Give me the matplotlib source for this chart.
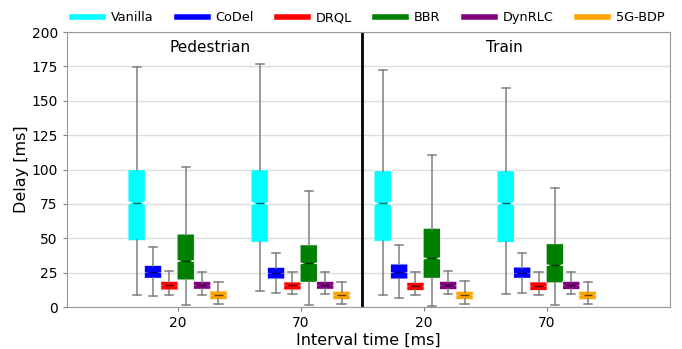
import matplotlib
matplotlib.use("Agg")
import matplotlib.pyplot as plt
from matplotlib.lines import Line2D
import numpy as np

# methods and their colours
methods = ["Vanilla", "CoDel", "DRQL", "BBR", "DynRLC", "5G-BDP"]
colors = ["cyan", "blue", "red", "green", "purple", "orange"]

# groups: Pedestrian 20, Pedestrian 70, Train 20, Train 70
tick_labels = ["20", "70", "20", "70"]
scenarios = ["Pedestrian", "Train"]

# box statistics in ms, one row per method, one column per group
whislo = [[8.5, 11.6, 8.7, 9.5],
          [8.0, 10.0, 6.3, 10.0],
          [8.5, 9.2, 8.7, 8.7],
          [1.2, 1.2, 0.7, 1.2],
          [8.7, 9.5, 9.2, 9.2],
          [2.2, 2.2, 2.2, 2.2]]
q1 = [[48.7, 47.5, 48.2, 47.3],
      [21.3, 20.8, 20.8, 21.3],
      [12.8, 12.8, 12.4, 12.4],
      [20.1, 18.4, 21.3, 18.0],
      [13.3, 13.3, 13.1, 13.1],
      [5.8, 5.8, 5.8, 5.8]]
med = [[75.9, 75.4, 75.4, 75.4],
       [25.2, 24.5, 25.2, 24.7],
       [15.8, 15.8, 15.0, 15.3],
       [33.5, 31.8, 35.4, 30.5],
       [15.8, 16.0, 15.8, 15.8],
       [8.5, 8.5, 8.5, 8.5]]
q3 = [[99.6, 99.6, 98.9, 98.9],
      [30.0, 28.6, 31.0, 28.8],
      [18.4, 18.0, 17.7, 18.0],
      [52.8, 45.0, 57.0, 45.8],
      [18.4, 18.4, 18.4, 18.4],
      [11.4, 11.2, 11.2, 11.2]]
whishi = [[174.5, 177.0, 172.4, 159.0],
          [43.4, 39.0, 45.0, 39.0],
          [26.2, 25.5, 25.5, 25.7],
          [102.0, 84.8, 110.5, 86.3],
          [25.7, 25.7, 26.4, 25.7],
          [18.4, 18.4, 19.2, 18.0]]
n_samples = 4000  # assumed samples per box, only sets the notch size

fig, ax = plt.subplots(figsize=(6.82, 3.49), dpi=100)
fig.subplots_adjust(left=0.098, right=0.982, bottom=0.12, top=0.908)

width = 0.133
group_pos = np.arange(1, 5)

for i, (name, col) in enumerate(zip(methods, colors)):
    stats = []
    for j in range(4):
        iqr = q3[i][j] - q1[i][j]
        ci = 1.57 * iqr / np.sqrt(n_samples)
        stats.append(dict(whislo=whislo[i][j], q1=q1[i][j], med=med[i][j],
                          q3=q3[i][j], whishi=whishi[i][j],
                          cilo=med[i][j] - ci, cihi=med[i][j] + ci,
                          fliers=[]))
    pos = group_pos + (i - 2.5) * width

    # light outline of the boxes (no notch), drawn underneath
    ax.bxp(stats, positions=pos, widths=width, patch_artist=True,
           showfliers=False, manage_ticks=False, showcaps=False,
           boxprops=dict(facecolor="none", edgecolor="#f4f4f4", linewidth=1.2),
           medianprops=dict(linewidth=0),
           whiskerprops=dict(linewidth=0))
    # the notched filled boxes with whiskers
    ax.bxp(stats, positions=pos, widths=width, patch_artist=True,
           shownotches=True, showfliers=False, manage_ticks=False,
           boxprops=dict(facecolor=col, edgecolor="none", linewidth=0),
           medianprops=dict(color="black", alpha=0.6, linewidth=1),
           whiskerprops=dict(color="#7f7f7f", linewidth=1.1),
           capprops=dict(color="#7f7f7f", linewidth=1.1))

# divider between scenarios
ax.axvline(2.5, color="black", linewidth=2)
ax.text(1.265, 189, scenarios[0], ha="center", va="center", fontsize=11)
ax.text(3.66, 189, scenarios[1], ha="center", va="center", fontsize=11)

ax.set_xlim(0.1, 5.0)
ax.set_ylim(0, 200)
ax.set_yticks(np.arange(0, 201, 25))
ax.set_xticks(group_pos)
ax.set_xticklabels(tick_labels)
ax.tick_params(labelsize=10, color="#808080", length=3)
ax.set_xlabel("Interval time [ms]", fontsize=11.5, labelpad=2)
ax.set_ylabel("Delay [ms]", fontsize=11.5, labelpad=2)
ax.yaxis.grid(True, color="#dddddd", linewidth=1)
ax.set_axisbelow(True)
for sp in ax.spines.values():
    sp.set_color("#999999")

handles = [Line2D([], [], color=c, linewidth=4) for c in colors]
fig.legend(handles, methods, loc="center", bbox_to_anchor=(0.54, 0.949),
           ncol=6, frameon=False, fontsize=9.3, handlelength=2.4,
           handletextpad=0.6, columnspacing=1.8, borderpad=0)

plt.savefig("out.png")
